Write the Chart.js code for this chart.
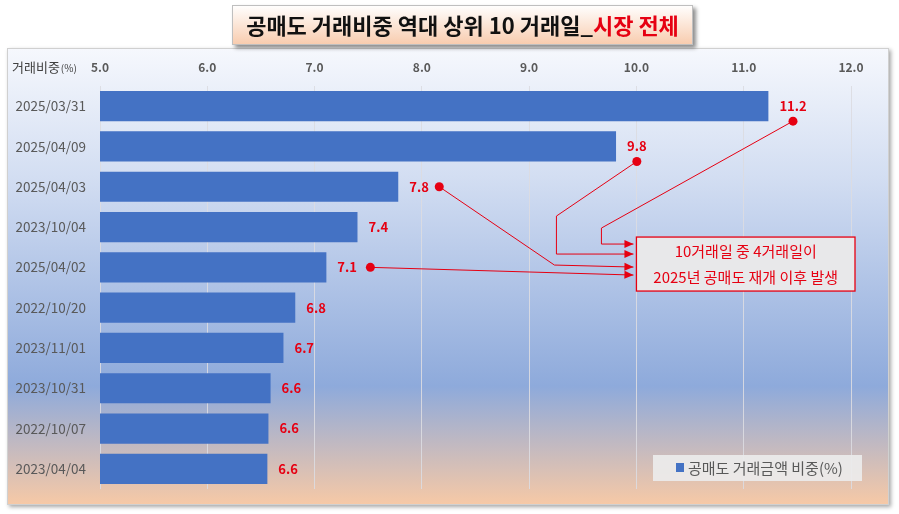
<!DOCTYPE html>
<html><head><meta charset="utf-8">
<script src="https://cdn.jsdelivr.net/npm/chart.js@4.4.1/dist/chart.umd.min.js"></script>
<style>html,body{margin:0;padding:0;background:#fff;}#wrap{width:899px;height:514px;position:relative;}</style>
</head><body><div id="wrap"><canvas id="c" width="899" height="514"></canvas></div>
<script>
const categories = ['2025/03/31','2025/04/09','2025/04/03','2023/10/04','2025/04/02','2022/10/20','2023/11/01','2023/10/31','2022/10/07','2023/04/04'];
const shareValues = [11.23, 9.81, 7.78, 7.40, 7.11, 6.82, 6.71, 6.59, 6.57, 6.56];
const seriesName = '공매도 거래금액 비중(%)';
const titleMain = '공매도 거래비중 역대 상위 10 거래일_';
const titleRed = '시장 전체';
const axisTitle = '거래비중';
const axisUnit = '(%)';
const noteLines = ['10거래일 중 4거래일이', '2025년 공매도 재개 이후 발생'];
const highlighted = [0, 1, 2, 4];

const FONT = '"Noto Sans CJK KR","Noto Sans",sans-serif';
const RED = '#e60012';

const decor = {
  id: 'decor',
  beforeDraw(chart) {
    const ctx = chart.ctx;
    ctx.save();
    ctx.fillStyle = '#fff';
    ctx.fillRect(0, 0, chart.width, chart.height);
    // outer panel
    const L = 7, T = 48, R = 889, B = 505;
    ctx.save();
    ctx.shadowColor = 'rgba(0,0,0,0.35)';
    ctx.shadowBlur = 4; ctx.shadowOffsetX = 2; ctx.shadowOffsetY = 2;
    const g = ctx.createLinearGradient(0, T, 0, B);
    g.addColorStop(0, '#f6f8fd');
    g.addColorStop(0.28, '#d3def2');
    g.addColorStop(0.74, '#8eaadb');
    g.addColorStop(1, '#f7c9a6');
    ctx.fillStyle = g;
    ctx.fillRect(L, T, R - L, B - T);
    ctx.restore();
    ctx.strokeStyle = '#d0d0d0'; ctx.lineWidth = 1;
    ctx.strokeRect(L + 0.5, T + 0.5, R - L - 1, B - T - 1);
    // title box
    const tl = 232, tt = 5, tr = 693, tb = 45;
    ctx.save();
    ctx.shadowColor = 'rgba(0,0,0,0.45)';
    ctx.shadowBlur = 4; ctx.shadowOffsetX = 3; ctx.shadowOffsetY = 3;
    const tg = ctx.createLinearGradient(0, tt, 0, tb);
    tg.addColorStop(0, '#ffffff');
    tg.addColorStop(1, '#f8cbad');
    ctx.fillStyle = tg;
    ctx.fillRect(tl, tt, tr - tl, tb - tt);
    ctx.restore();
    ctx.strokeStyle = '#bfbfbf';
    ctx.strokeRect(tl + 0.5, tt + 0.5, tr - tl - 1, tb - tt - 1);
    ctx.font = 'bold 22px ' + FONT;
    ctx.textBaseline = 'middle';
    const w1 = ctx.measureText(titleMain).width, w2 = ctx.measureText(titleRed).width;
    let x0 = (tl + tr) / 2 - (w1 + w2) / 2;
    ctx.fillStyle = '#111';
    ctx.textAlign = 'left';
    ctx.fillText(titleMain, x0, 26);
    ctx.fillStyle = RED;
    ctx.fillText(titleRed, x0 + w1, 26);
    // axis title
    ctx.fillStyle = '#404040';
    ctx.font = '13px ' + FONT;
    ctx.fillText(axisTitle, 12, 67);
    const aw = ctx.measureText(axisTitle).width;
    ctx.font = '10px ' + FONT;
    ctx.fillText(axisUnit, 12 + aw + 1, 68);
    ctx.restore();
  },
  afterDatasetsDraw(chart) {
    const ctx = chart.ctx, xs = chart.scales.x, ys = chart.scales.y, ca = chart.chartArea;
    const meta = chart.getDatasetMeta(0);
    ctx.save();
    ctx.font = 'bold 13px ' + FONT;
    ctx.textBaseline = 'middle';
    ctx.textAlign = 'left';
    ctx.fillStyle = RED;
    const dots = {};
    shareValues.forEach((v, i) => {
      const bar = meta.data[i];
      const lx = bar.x + 11, ly = bar.y;
      const txt = v.toFixed(1);
      ctx.fillText(txt, lx, ly);
      const tw = ctx.measureText(txt).width;
      if (i === 0 || i === 1) dots[i] = [lx + tw / 2, ly + 15];
      else if (i === 2) dots[i] = [bar.x + 41, ly];
      else if (i === 4) dots[i] = [bar.x + 44, ly];
    });
    // note box
    const bL = xs.getPixelForValue(10.0), bR = ca.right + 4;
    const bT = ys.getPixelForValue(3) + 10, bB = bT + 54;
    ctx.strokeStyle = RED; ctx.fillStyle = RED; ctx.lineWidth = 1;
    const paths = {
      0: [[bL - 35, bT - 9], [bL - 35, bT + 7], [bL - 3, bT + 7]],
      1: [[bL - 80, bT - 21], [bL - 80, bT + 17], [bL - 3, bT + 17]],
      2: [[bL - 82, bT + 28], [bL - 3, bT + 30]],
      4: [[bL - 3, bT + 38]]
    };
    highlighted.forEach(i => {
      const d = dots[i];
      const p = paths[i];
      ctx.beginPath();
      ctx.moveTo(d[0], d[1]);
      p.forEach(q => ctx.lineTo(q[0], q[1]));
      ctx.stroke();
      const end = p[p.length - 1];
      const prev = p.length > 1 ? p[p.length - 2] : d;
      const ang = Math.atan2(end[1] - prev[1], end[0] - prev[0]);
      ctx.beginPath();
      ctx.moveTo(end[0], end[1]);
      ctx.lineTo(end[0] - 9 * Math.cos(ang) + 4 * Math.sin(ang), end[1] - 9 * Math.sin(ang) - 4 * Math.cos(ang));
      ctx.lineTo(end[0] - 9 * Math.cos(ang) - 4 * Math.sin(ang), end[1] - 9 * Math.sin(ang) + 4 * Math.cos(ang));
      ctx.closePath(); ctx.fill();
      ctx.beginPath();
      ctx.arc(d[0], d[1], 4.5, 0, Math.PI * 2);
      ctx.fill();
    });
    ctx.fillStyle = '#e8e8ea';
    ctx.fillRect(bL, bT, bR - bL, bB - bT);
    ctx.lineWidth = 1.3;
    ctx.strokeStyle = RED;
    ctx.strokeRect(bL, bT, bR - bL, bB - bT);
    ctx.fillStyle = RED;
    ctx.font = '15px ' + FONT;
    ctx.textAlign = 'center';
    ctx.fillText(noteLines[0], (bL + bR) / 2, bT + 14);
    ctx.fillText(noteLines[1], (bL + bR) / 2, bT + 40);
    // legend
    const gR = ca.right + 11, gB = ca.bottom - 8, gL = gR - 209, gT = gB - 26;
    ctx.fillStyle = 'rgba(235,235,235,0.92)';
    ctx.fillRect(gL, gT, gR - gL, gB - gT);
    ctx.fillStyle = '#4472c4';
    ctx.fillRect(gL + 23, gT + 8, 8, 9);
    ctx.fillStyle = '#595959';
    ctx.textAlign = 'left';
    ctx.font = '15px ' + FONT;
    ctx.fillText(seriesName, gL + 35, gT + 13);
    ctx.restore();
  }
};

new Chart(document.getElementById('c'), {
  type: 'bar',
  data: {
    labels: categories,
    datasets: [{ label: seriesName, data: shareValues, backgroundColor: '#4472c4', borderWidth: 0,
      categoryPercentage: 1.0, barPercentage: 0.75 }]
  },
  options: {
    indexAxis: 'y',
    responsive: false,
    animation: false,
    devicePixelRatio: 1,
    layout: { padding: { left: 0, right: 48, top: 56, bottom: 25 } },
    plugins: { legend: { display: false }, tooltip: { enabled: false }, title: { display: false } },
    scales: {
      x: {
        position: 'top', min: 5, max: 12,
        afterFit(s) { s.height = 30; },
        ticks: { stepSize: 1, padding: 11, color: '#595959', font: { family: FONT, size: 12, weight: 'bold' },
          callback: v => Number(v).toFixed(1) },
        grid: { color: 'rgba(220,220,225,0.9)', drawTicks: false, lineWidth: 1 },
        border: { display: false }
      },
      y: {
        afterFit(s) { s.width = 100; },
        ticks: { padding: 14, color: '#595959', font: { family: FONT, size: 13.5 } },
        grid: { display: false, drawTicks: false },
        border: { display: false }
      }
    }
  },
  plugins: [decor]
});
</script></body></html>
